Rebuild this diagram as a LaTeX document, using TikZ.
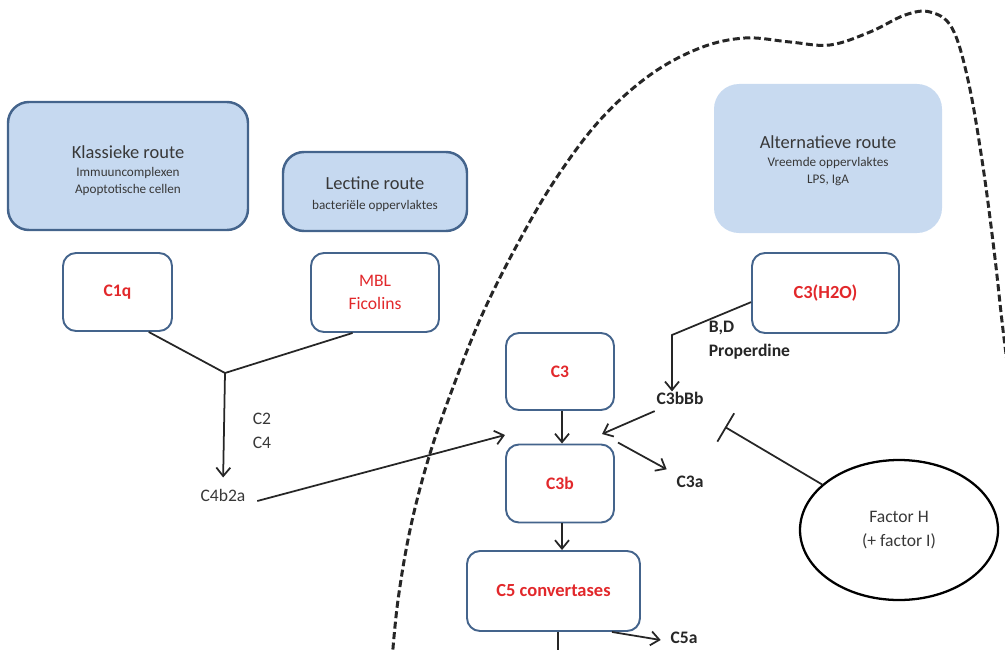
\documentclass[tikz,border=0pt]{standalone}
\usepackage{fontspec}
\setmainfont{Carlito}
\usepackage{tikz}
\usepackage{xcolor}
\usetikzlibrary{shapes.geometric,arrows.meta}
\definecolor{routefill}{HTML}{C6D9F0}
\definecolor{altfill}{HTML}{C8DAF0}
\definecolor{boxline}{HTML}{44648C}
\definecolor{redtxt}{HTML}{E2282B}
\definecolor{greytxt}{HTML}{383838}
\newcommand{\ttlfont}{\fontsize{10.5}{12.5}\selectfont}
\tikzstyle{route}=[draw=boxline, line width=1.4pt, fill=routefill, rounded corners=4.2mm, inner sep=0pt, align=center, text=greytxt, font=\fontsize{7.5}{9.7}\selectfont]
\tikzstyle{altroute}=[fill=altfill, rounded corners=5mm, inner sep=0pt, align=center, text=greytxt, font=\fontsize{7.5}{9.7}\selectfont]
\tikzstyle{prot}=[draw=boxline, line width=1.1pt, fill=white, rounded corners=2.6mm, inner sep=0pt, align=center, text=redtxt, font=\fontsize{10}{13}\selectfont]
\tikzstyle{lbl}=[inner sep=2pt, text=greytxt, align=left, font=\fontsize{10}{13.5}\selectfont]
\tikzstyle{arr}=[line width=1pt, draw=black!85, -{Straight Barb[length=1.7mm,width=2.8mm]}]
\tikzstyle{stopline}=[line width=1pt, draw=black!85, -{Bar[width=6.6mm]}]

\begin{document}
\begin{tikzpicture}[x=0.2mm, y=-0.2mm]
    \useasboundingbox (0,0) rectangle (1005,649);
    \clip (0,0) rectangle (1005,649);

    % border of the alternative route
    \draw [line width=1.7pt, black!85, dash pattern=on 1.4mm off 0.7mm]
        plot [smooth, tension=0.6] coordinates {(392,660) (398,600) (410,530) (428,460) (452,390) (482,315) (517,245) (555,180) (600,120) (650,75) (700,48) (745,38) (790,42) (830,45) (870,32) (905,15) (930,12) (952,28) (968,80) (982,160) (994,250) (1003,330) (1012,400)};

    % routes
    \node [route, minimum width=48mm, minimum height=25.6mm] (klass) at (128,166)
        {\rule{0pt}{13pt}{\ttlfont Klassieke route}\\[0.5pt] Immuuncomplexen\\ Apoptotische cellen};
    \node [route, minimum width=36.8mm, minimum height=15.8mm] (lect) at (375,191.5)
        {\rule{0pt}{10pt}{\ttlfont Lectine route}\\[1.5pt] bacteri\"ele oppervlaktes};
    \node [altroute, minimum width=45.6mm, minimum height=29.8mm] (alt) at (828,158.5)
        {\rule{0pt}{10pt}{\ttlfont Alternatieve route}\\[0.5pt] Vreemde oppervlaktes\\ LPS, IgA};

    % first proteins
    \node [prot, minimum width=21.8mm, minimum height=15.6mm, font=\fontsize{10}{13}\selectfont\bfseries] (c1q) at (117.5,292) {C1q};
    \node [prot, minimum width=25.6mm, minimum height=15.8mm] (mbl) at (375,292.5) {MBL\\ Ficolins};
    \node [prot, minimum width=29.4mm, minimum height=16mm, font=\fontsize{10.5}{13}\selectfont\bfseries] (c3h2o) at (825.5,293) {C3(H2O)};

    % C3 chain
    \node [prot, minimum width=21.6mm, minimum height=15.4mm, font=\fontsize{10}{13}\selectfont\bfseries] (c3) at (560,371.5) {C3};
    \node [prot, minimum width=21.6mm, minimum height=15.6mm, font=\fontsize{10}{13}\selectfont\bfseries] (c3b) at (560,483.5) {C3b};
    \node [prot, minimum width=34.6mm, minimum height=16mm, font=\fontsize{10.5}{13}\selectfont\bfseries] (c5) at (553.5,591) {C5 convertases};

    % labels
    \node [lbl] (c2c4) at (262,431) {C2\\ C4};
    \node [lbl] (c4b2a) at (223,495) {C4b2a};
    \node [lbl, font=\fontsize{10}{14}\selectfont\bfseries, text=black!85, anchor=west] (bd) at (705,340) {B,D\\ Properdine};
    \node [lbl, font=\fontsize{10}{13}\selectfont\bfseries, text=black!85] (c3bbb) at (680,398) {C3bBb};
    \node [lbl, font=\fontsize{10}{13}\selectfont\bfseries, text=black!85] (c3a) at (690,482) {C3a};
    \node [lbl, font=\fontsize{10}{13}\selectfont\bfseries, text=black!85] (c5a) at (684,638) {C5a};
    \node [ellipse, draw, line width=1.3pt, minimum width=39.6mm, minimum height=28mm, inner sep=0pt, align=center, text=greytxt, font=\fontsize{10}{14}\selectfont] (fh) at (899,530) {Factor H\\ (+ factor I)};

    \coordinate (join) at (225,373);
    \coordinate (bend) at (672,335);
    \coordinate (mergeL) at (505,435);
    \coordinate (mergeR) at (602,434);
    \coordinate (inhib) at (725,427);
    \coordinate (c5out) at (558,660);

    % classic and lectin
    \draw [line width=1pt, black!85] (c1q.-52) -- (join) -- (mbl.-119.6);
    \draw [arr, shorten >=1.5mm] (join) -- (c4b2a.north);
    \draw [arr] ([shift={(8,6)}]c4b2a.east) -- (mergeL);

    % alternative
    \draw [arr] (c3h2o.187) -- (bend) -- ([yshift=-2]bend |- c3bbb.north);
    \draw [arr] ([shift={(2,3)}]c3bbb.south west) -- (mergeR);
    \draw [arr] (c3.south -| 562,0) -- (c3b.north -| 562,0);
    \draw [arr] ([shift={(3,-1)}]c3b.north east) -- ([shift={(-6,-3)}]c3a.north west);
    \draw [arr] (c3b.south -| 562,0) -- (c5.north -| 562,0);
    \draw [line width=1pt, black!85] (c5.south -| c5out) -- (c5out);
    \draw [arr] (c5.-35) -- ([shift={(-6,2)}]c5a.west);

    % regulation
    \draw [stopline] (fh) -- (inhib);
\end{tikzpicture}
\end{document}
